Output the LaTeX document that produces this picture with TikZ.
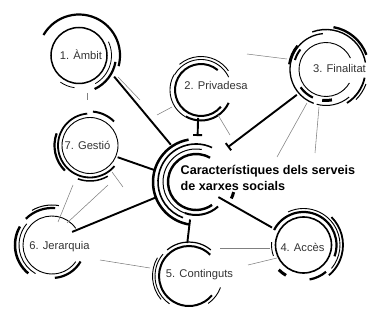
\documentclass[tikz,border=0pt]{standalone}
\usepackage{fontspec}
\setmainfont{Liberation Sans}
\usetikzlibrary{arrows.meta,calc}
\newcommand\ark[5]{\draw[line width=#5pt] (#1) ++(#3:#2pt) arc[start angle=#3,end angle=#4,radius=#2pt];}
\begin{document}
\begin{tikzpicture}[x=1pt,y=1pt,
  lbl/.style={font=\fontsize{11.2}{13}\selectfont, text=black!80, inner sep=0pt},
  ttl/.style={font=\fontsize{12.6}{16}\selectfont\bfseries, text=black, inner sep=0pt, align=left, anchor=west},
  link/.style={line width=1.9pt, draw=black},
  tlink/.style={link, -{Bar[width=9pt,line width=1.9pt]}},
  fine/.style={line width=0.55pt, draw=black!50}]
\useasboundingbox (0,0) rectangle (383,319);
% centres
\coordinate (c0) at (196,137);
\coordinate (c1) at (79,263.5);
\coordinate (c2) at (201,229);
\coordinate (c3) at (326,249.5);
\coordinate (c4) at (303.5,74);
\coordinate (c5) at (189,43);
\coordinate (c6) at (52,74);
\coordinate (c7) at (90,173.5);
% labels
\node[ttl] (t0) at (180.5,141) {Característiques dels serveis\\de xarxes socials};
\node[lbl] (t1) at (81,264) {1. Àmbit};
\node[lbl] (t2) at (216,234) {2. Privadesa};
\node[lbl] (t3) at (339.5,251) {3. Finalitat};
\node[lbl] (t4) at (302.5,72) {4. Accès};
\node[lbl] (t5) at (199.5,44) {5. Continguts};
\node[lbl] (t6) at (59.5,72) {6. Jerarquia};
\node[lbl] (t7) at (87.5,174) {7. Gestió};
% centre rings
\ark{c0}{28}{60}{305}{2.4}
\ark{c0}{33}{80}{250}{1}
\ark{c0}{38}{65}{250}{1.6}
\ark{c0}{43}{100}{262}{2.5}
\ark{c0}{33}{250}{312}{2}
\ark{c0}{39}{-15}{-25}{3}
% 1 Ambit
\ark{c1}{28}{0}{360}{1.5}
\ark{c1}{41}{150}{-15}{2.2}
\ark{c1}{37}{-10}{-65}{2.2}
\ark{c1}{32.5}{25}{-60}{0.8}
\ark{c1}{32.5}{235}{262}{0.8}
% 2 Privadesa
\ark{c2}{26}{50}{320}{2}
\ark{c2}{30.5}{25}{150}{0.9}
\ark{c2}{33.5}{35}{130}{0.9}
\ark{c2}{31}{150}{240}{0.9}
\ark{c2}{30.5}{240}{335}{2}
% 3 Finalitat
\ark{c3}{27}{25}{330}{0.9}
\ark{c3}{36}{95}{250}{1.3}
\ark{c3}{37}{140}{172}{2.6}
\ark{c3}{32.5}{142}{163}{2}
\ark{c3}{40}{110}{10}{1.4}
\ark{c3}{43}{80}{20}{2.3}
\ark{c3}{39.5}{-12}{-58}{1.8}
\ark{c3}{42.5}{-20}{-45}{1}
\ark{c3}{31}{215}{245}{2.2}
\ark{c3}{31}{263}{281}{3}
\ark{c3}{36}{255}{310}{1}
% 4 Acces
\ark{c4}{28}{0}{360}{1.6}
\ark{c4}{33}{153}{-20}{2.2}
\ark{c4}{36.5}{115}{-40}{0.9}
\ark{c4}{39.5}{45}{-50}{1.8}
\ark{c4}{35}{225}{240}{3}
\ark{c4}{35}{-80}{-50}{2.2}
\ark{c4}{32}{175}{200}{0.9}
% 5 Continguts
\ark{c5}{30}{45}{320}{2}
\ark{c5}{34}{50}{130}{1.2}
\ark{c5}{34}{140}{235}{0.9}
\ark{c5}{36.5}{150}{220}{0.9}
\ark{c5}{33.5}{-20}{-55}{0.9}
% 6 Jerarquia
\ark{c6}{29}{35}{325}{0.9}
\ark{c6}{37}{85}{135}{2.2}
\ark{c6}{40}{80}{120}{1}
\ark{c6}{37}{150}{230}{2.5}
\ark{c6}{33}{-85}{-30}{2.2}
\ark{c6}{33}{140}{240}{0.9}
% 7 Gestio
\ark{c7}{28}{0}{360}{0.9}
\ark{c7}{32}{95}{320}{1.8}
\ark{c7}{34}{85}{45}{2}
\ark{c7}{35.5}{160}{225}{2.2}
\ark{c7}{35.5}{250}{300}{1.5}
% connector end points
\coordinate (k1a) at ($(c1)+(-31:41pt)$);  \coordinate (k1b) at ($(c0)+(124:45pt)$);
\coordinate (k2a) at ($(c2)+(-96:28pt)$);  \coordinate (k2b) at ($(c0)+(88:46pt)$);
\coordinate (k3a) at ($(c3)+(221:38.6pt)$); \coordinate (k3b) at ($(c0)+(47.6:47pt)$);
\coordinate (k7a) at ($(c7)+(-23:30pt)$);  \coordinate (k7b) at ($(c0)+(164:43pt)$);
\coordinate (k6a) at ($(c6)+(33:24pt)$);   \coordinate (k6b) at ($(c0)+(201:42pt)$);
\coordinate (k5a) at ($(c0)+(261:38pt)$);  \coordinate (k5b) at ($(c5)+(93:33pt)$);
\coordinate (k4a) at ($(c0)+(-34:27pt)$);  \coordinate (k4b) at ($(c4)+(151:36pt)$);
\draw[link] (k1a) -- (k1b);
\draw[tlink] (k2a) -- (k2b);
\draw[tlink] (k3a) -- (k3b);
\draw[link] (k7a) -- (k7b);
\draw[link] (k6a) -- (k6b);
\draw[link] (k5a) -- (k5b);
\draw[link] (k4a) -- (k4b);
% fine lines
\foreach \p/\q in {{118,242}/{140,219},{157,204}/{172,212},{87,226}/{87,219},
  {247,265}/{287,260},{218,204}/{230,184},{307,216}/{277,162},{319,212}/{315,166},
  {73,134}/{58,97},{108,134}/{67,96},{112,147}/{123,132},{100,59}/{150,51},
  {220,71}/{270,71},{248,54}/{277,61}}
  \draw[fine] (\p) -- (\q);
\end{tikzpicture}
\end{document}
